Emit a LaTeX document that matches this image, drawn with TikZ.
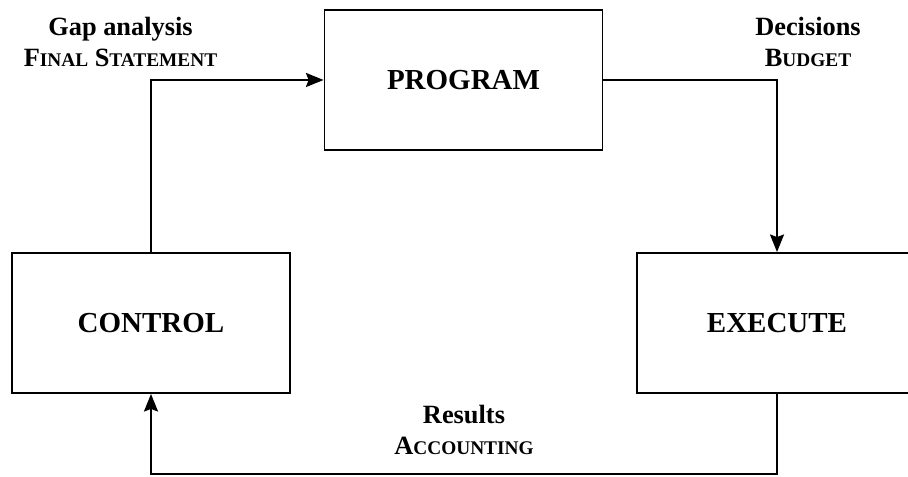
\documentclass[tikz,border=0pt]{standalone}
\usepackage{fontspec}
\setmainfont{Liberation Serif}
\usepackage{tikz}
\usetikzlibrary{arrows.meta, positioning, calc}
\newcommand{\fakesc}[2]{#1{\fontsize{11}{13}\selectfont #2}}

\begin{document}
\begin{tikzpicture}[
  stagebox/.style={draw, line width=1.1pt, minimum width=5.56cm, minimum height=2.8cm, font=\fontsize{16.5}{20}\selectfont\bfseries},
  flowlabel/.style={align=center, font=\fontsize{15}{18}\selectfont\bfseries},
  flow/.style={line width=1.1pt},
  >={Stealth[length=10pt,width=8pt,inset=1.5pt]}
]
\useasboundingbox (0,0) rectangle (18.16,9.54);
% Stages of the cycle
\node[stagebox] (prog) at (9.27,7.94) {PROGRAM};
\node[stagebox] (ctrl) at (3.02,3.08) {CONTROL};
\node[stagebox, minimum width=5.6cm] (exec) at (15.54,3.08) {EXECUTE};

% Labels on the flows
\node[flowlabel] (lblgap) at (2.41,8.7) {Gap analysis\\\fakesc{F}{INAL} \fakesc{S}{TATEMENT}};
\node[flowlabel] (lbldec) at (16.16,8.7) {Decisions\\\fakesc{B}{UDGET}};
\node[flowlabel] (lblres) at (9.28,0.94) {Results\\\fakesc{A}{CCOUNTING}};

% Flows
\coordinate (low) at (0,0.06);
\draw[->, flow] (ctrl.north) |- (prog.west);
\draw[->, flow] (prog.east) -| (exec.north);
\draw[->, flow] (exec.south) -- (exec.south |- low) -| (ctrl.south);
\end{tikzpicture}
\end{document}
